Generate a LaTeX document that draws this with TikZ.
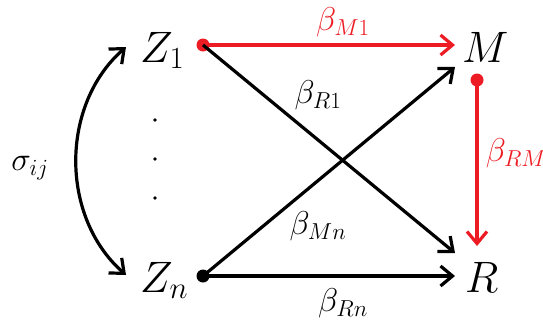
\documentclass[tikz,border=0pt]{standalone}
\usepackage{fix-cm}
\usetikzlibrary{arrows.meta}
\definecolor{myred}{RGB}{237,28,36}
\begin{document}
\begin{tikzpicture}[x=1pt,y=-1pt,
  var/.style={inner sep=0pt, anchor=base west, font=\fontsize{44}{50}\selectfont},
  lab/.style={inner sep=0pt, font=\fontsize{33}{38}\selectfont},
  tip/.style={Straight Barb[length=12pt,width=20pt]},
  conn/.style={line width=3.2pt, -{Straight Barb[length=12pt,width=20pt]}},
  redconn/.style={conn, draw=myred},
  dotmark/.style={circle, inner sep=0pt, minimum size=13pt}
]
\useasboundingbox (0,0) rectangle (543,324);
% variables
\node[var] (Z1) at (140,62) {$Z_1$};
\node[var] (Zn) at (140,292) {$Z_n$};
\node[var] (M) at (462,62) {$M$};
\node[var] (R) at (465,292) {$R$};
% dots
\node[dotmark, fill=myred] (z1o) at (203,45) {};
\node[dotmark, fill=black] (zno) at (203,276) {};
\node[dotmark, fill=myred] (mo) at (477,80) {};
% arrow ends
\coordinate (mA) at (455,45);
\coordinate (mB) at (455,67);
\coordinate (rA) at (455,253);
\coordinate (rB) at (455,276);
\coordinate (rC) at (477,246);
\coordinate (cA) at (126,47);
\coordinate (cB) at (126,275);
% connectors
\draw[redconn] (z1o.center) -- (mA);
\draw[conn] (z1o.center) -- (rA);
\draw[conn] (zno.center) -- (mB);
\draw[conn] (zno.center) -- (rB);
\draw[redconn] (mo.center) -- (rC);
\draw[line width=3.2pt, {Straight Barb[length=12pt,width=20pt]}-{Straight Barb[length=12pt,width=20pt]}]
  (cA) .. controls (60,105) and (60,217) .. (cB);
% vertical dots
\foreach \yy in {120,159,198} \fill (155,\yy) circle (1.8pt);
% labels
\node[lab, text=myred] (lM1) at (343,22) {$\beta_{M1}$};
\node[lab] (lR1) at (318,95) {$\beta_{R1}$};
\node[lab] (lMn) at (318,226) {$\beta_{Mn}$};
\node[lab] (lRn) at (343,303) {$\beta_{Rn}$};
\node[lab, text=myred] (lRM) at (516,153) {$\beta_{RM}$};
\node[lab] (sij) at (30,168) {$\sigma_{ij}$};
\end{tikzpicture}
\end{document}
